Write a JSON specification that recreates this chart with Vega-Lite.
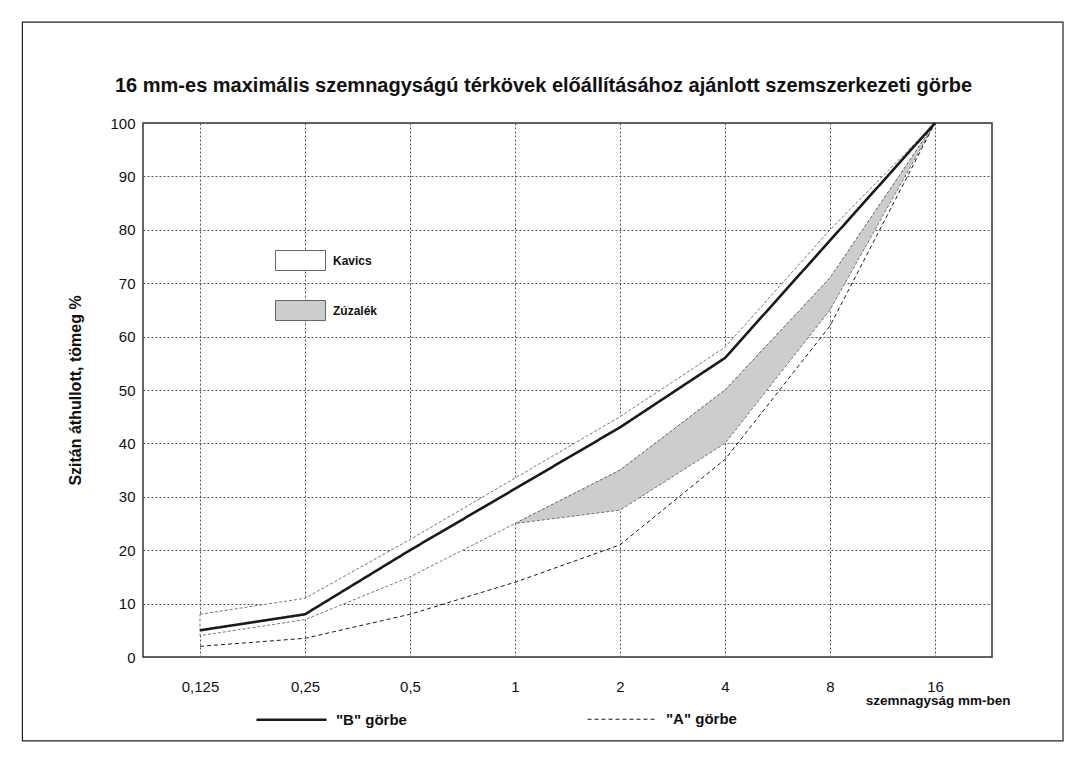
{
  "$schema": "https://vega.github.io/schema/vega-lite/v6.json",
  "autosize": {"type": "none"},
  "width": 849,
  "height": 534,
  "padding": {"left": 143, "top": 123, "right": 93, "bottom": 106},
  "background": "white",
  "config": {
    "font": "Liberation Sans",
    "view": {"stroke": "#333", "strokeWidth": 1.5},
    "axis": {"labelFont": "Liberation Sans", "titleFont": "Liberation Sans", "labelColor": "#111", "titleColor": "#111"}
  },
  "title": {
    "text": "16 mm-es maximális szemnagyságú térkövek előállításához  ajánlott szemszerkezeti görbe",
    "anchor": "start",
    "frame": "group",
    "dx": -28,
    "offset": 0,
    "dy": 75,
    "fontSize": 20,
    "fontWeight": "bold",
    "font": "Liberation Sans",
    "color": "#111"
  },
  "datasets": {
    "bands": [
      {"mm": 0.125, "zone": "Kavics", "hi": 8, "lo": 4},
      {"mm": 0.25, "zone": "Kavics", "hi": 11, "lo": 7},
      {"mm": 0.5, "zone": "Kavics", "hi": 22, "lo": 15},
      {"mm": 1, "zone": "Kavics", "hi": 33.5, "lo": 25},
      {"mm": 2, "zone": "Kavics", "hi": 45, "lo": 35},
      {"mm": 4, "zone": "Kavics", "hi": 58, "lo": 50},
      {"mm": 8, "zone": "Kavics", "hi": 80, "lo": 71},
      {"mm": 16, "zone": "Kavics", "hi": 100, "lo": 100},
      {"mm": 1, "zone": "Zúzalék", "hi": 25, "lo": 25},
      {"mm": 2, "zone": "Zúzalék", "hi": 35, "lo": 27.5},
      {"mm": 4, "zone": "Zúzalék", "hi": 50, "lo": 40},
      {"mm": 8, "zone": "Zúzalék", "hi": 71, "lo": 65},
      {"mm": 16, "zone": "Zúzalék", "hi": 100, "lo": 100}
    ],
    "curves": [
      {"mm": 0.125, "curve": "\"B\" görbe", "pct": 5},
      {"mm": 0.25, "curve": "\"B\" görbe", "pct": 8},
      {"mm": 0.5, "curve": "\"B\" görbe", "pct": 20},
      {"mm": 1, "curve": "\"B\" görbe", "pct": 31.5},
      {"mm": 2, "curve": "\"B\" görbe", "pct": 43},
      {"mm": 4, "curve": "\"B\" görbe", "pct": 56},
      {"mm": 8, "curve": "\"B\" görbe", "pct": 78},
      {"mm": 16, "curve": "\"B\" görbe", "pct": 100},
      {"mm": 0.125, "curve": "\"A\" görbe", "pct": 2},
      {"mm": 0.25, "curve": "\"A\" görbe", "pct": 3.5},
      {"mm": 0.5, "curve": "\"A\" görbe", "pct": 8},
      {"mm": 1, "curve": "\"A\" görbe", "pct": 14},
      {"mm": 2, "curve": "\"A\" görbe", "pct": 21},
      {"mm": 4, "curve": "\"A\" görbe", "pct": 37},
      {"mm": 8, "curve": "\"A\" görbe", "pct": 62},
      {"mm": 16, "curve": "\"A\" görbe", "pct": 100}
    ]
  },
  "layer": [
    {
      "data": {"name": "bands"},
      "mark": {"type": "area", "stroke": "#666", "strokeWidth": 0.9, "strokeDash": [3, 2], "opacity": 1},
      "encoding": {
        "x": {
          "field": "mm",
          "type": "quantitative",
          "scale": {"type": "log", "base": 2, "domain": [0.0858, 23.31], "nice": false},
          "axis": {
            "values": [0.125, 0.25, 0.5, 1, 2, 4, 8, 16],
            "labelExpr": "replace(toString(datum.value), '.', ',')",
            "labelFontSize": 15,
            "labelPadding": 22,
            "ticks": false,
            "domain": false,
            "grid": true,
            "gridColor": "#555",
            "gridDash": [2, 2],
            "gridWidth": 1,
            "title": "szemnagyság mm-ben",
            "titleFontSize": 13.5,
            "titleFontWeight": "bold",
            "titleAnchor": "end",
            "titleAlign": "right",
            "titleX": 867,
            "titleY": 47,
            "titleBaseline": "alphabetic"
          }
        },
        "y": {
          "field": "hi",
          "type": "quantitative",
          "scale": {"domain": [0, 100], "nice": false},
          "axis": {
            "values": [0, 10, 20, 30, 40, 50, 60, 70, 80, 90, 100],
            "labelFontSize": 15,
            "labelPadding": 8,
            "ticks": false,
            "domain": false,
            "grid": true,
            "gridColor": "#555",
            "gridDash": [2, 2],
            "gridWidth": 1,
            "title": "Szitán áthullott, tömeg %",
            "titleFontSize": 16,
            "titleFontWeight": "bold",
            "titlePadding": 26
          }
        },
        "y2": {"field": "lo"},
        "fill": {
          "field": "zone",
          "type": "nominal",
          "scale": {"domain": ["Kavics", "Zúzalék"], "range": ["#ffffff", "#cdcdcd"]},
          "legend": {
            "orient": "none",
            "legendX": 132,
            "legendY": 112,
            "title": null,
            "symbolType": "M-1,-0.4H1V0.4H-1Z",
            "symbolSize": 2500,
            "symbolStrokeColor": "#666",
            "symbolStrokeWidth": 1,
            "symbolOpacity": 1,
            "rowPadding": 12,
            "labelFontSize": 12,
            "labelFontWeight": "bold",
            "labelOffset": 7,
            "labelColor": "#111"
          }
        }
      }
    },
    {
      "data": {"name": "curves"},
      "mark": {"type": "line", "color": "#1a1a1a"},
      "encoding": {
        "x": {"field": "mm", "type": "quantitative"},
        "y": {"field": "pct", "type": "quantitative"},
        "detail": {"field": "curve"},
        "strokeDash": {
          "field": "curve",
          "type": "nominal",
          "scale": {"domain": ["\"B\" görbe", "\"A\" görbe"], "range": [[1, 0], [4, 3]]},
          "legend": {
            "orient": "none",
            "direction": "horizontal",
            "legendX": 112,
            "legendY": 560,
            "title": null,
            "symbolType": "stroke",
            "symbolSize": 4900,
            "symbolStrokeColor": "#1a1a1a",
            "labelFontSize": 15,
            "labelFontWeight": "bold",
            "labelColor": "#111",
            "labelOffset": 8,
            "columnPadding": 178
          }
        },
        "strokeWidth": {
          "field": "curve",
          "type": "nominal",
          "scale": {"domain": ["\"B\" görbe", "\"A\" görbe"], "range": [2.6, 1]},
          "legend": null
        }
      }
    },
    {
      "data": {"values": [{}]},
      "mark": {"type": "rect", "fill": null, "stroke": "#222", "strokeWidth": 1.2, "clip": false},
      "encoding": {
        "x": {"datum": 0.0387, "type": "quantitative"},
        "x2": {"datum": 37.25},
        "y": {"datum": 118.9, "type": "quantitative"},
        "y2": {"datum": -15.7}
      }
    }
  ]
}
